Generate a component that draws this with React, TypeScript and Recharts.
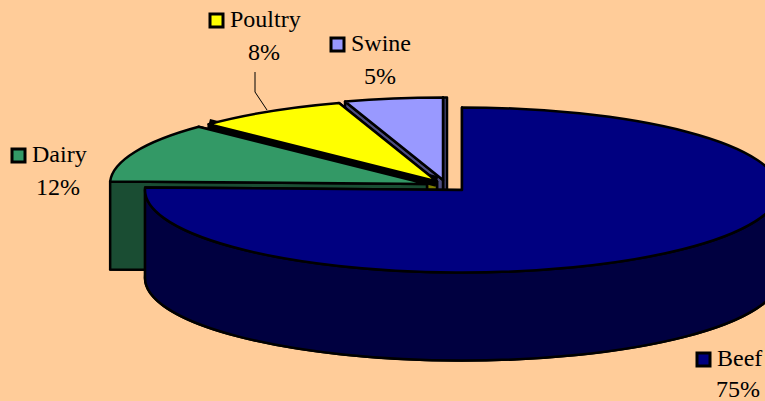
import { PieChart, Pie } from "recharts";

// drawn back to front, the pie runs counter-clockwise from 12 o'clock
const names = ["Swine", "Poultry", "Dairy", "Beef"];
const shares = [5.0, 7.8, 11.7, 75.5];
const percentLabels = ["5%", "8%", "12%", "75%"];

const topColors = ["#9999ff", "#ffff00", "#339966", "#000080"];
const wallColors = ["#4d4d80", "#808000", "#1a4d33", "#000040"];

const data = names.map((name, i) => ({ name, value: shares[i] }));

const WIDTH = 765;
const HEIGHT = 401;
const CX = 462;
const CY = 190;
const RX = 317;
const RY = 82.5;
const DEPTH = 88;

// how far each slice is pulled out of the pie
// edge = width of the heavy black line along the slice's far cut, the gap to the next slice
const explode = [
  { dx: -19, dy: -10, side: 4, edge: 0 },
  { dx: -25, dy: -8.5, side: 0, edge: 11 },
  { dx: -35, dy: -6, side: 0, edge: 0 },
  { dx: 0, dy: 0, side: 0, edge: 0 },
];

// where the legend-style labels sit
const labelBoxes = [
  { x: 331, y: 38, pctX: 380, pctY: 84 },
  { x: 210, y: 14, pctX: 264, pctY: 60 },
  { x: 12, y: 149, pctX: 58, pctY: 195 },
  { x: 697, y: 353, pctX: 738, pctY: 397 },
];

const FONT = '"Liberation Serif", "Times New Roman", serif';

function Slice3D(props: any) {
  const { startAngle, endAngle, cx, cy, index, name } = props;
  const i = index ?? names.indexOf(name);
  const { dx, dy, side, edge } = explode[i];
  const ox = cx + dx;
  const oy = cy + dy;
  const rx = props.outerRadius;
  const ry = (rx * RY) / RX;

  const xy = (deg: number) => {
    const r = (deg * Math.PI) / 180;
    return [ox + rx * Math.cos(r), oy - ry * Math.sin(r)];
  };
  const pt = (deg: number, drop = 0) => {
    const [x, y] = xy(deg);
    return `${x} ${y + drop}`;
  };
  const large = endAngle - startAngle > 180 ? 1 : 0;
  const sectorPath = (drop: number) =>
    `M ${ox} ${oy + drop} L ${pt(startAngle, drop)} A ${rx} ${ry} 0 ${large} 0 ${pt(endAngle, drop)} Z`;
  const radialWall = (deg: number) =>
    `M ${ox} ${oy} L ${pt(deg)} L ${pt(deg, DEPTH)} L ${ox} ${oy + DEPTH} Z`;

  const wallFrom = Math.max(startAngle, 180);
  const wallTo = Math.min(endAngle, 360);
  const common = { stroke: "#000", strokeWidth: 2.5, strokeLinejoin: "round" as const };
  const [sx, sy] = xy(startAngle);
  const [ex, ey] = xy(endAngle);

  return (
    <g>
      <path d={sectorPath(DEPTH)} fill={wallColors[i]} {...common} />
      {side > 0 && (
        <rect x={sx} y={sy} width={side} height={DEPTH + oy - sy} fill={wallColors[i]} {...common} />
      )}
      <path d={radialWall(startAngle)} fill={wallColors[i]} {...common} />
      <path d={radialWall(endAngle)} fill={wallColors[i]} {...common} />
      {edge > 0 && <line x1={ox} y1={oy} x2={ex} y2={ey} stroke="#000" strokeWidth={edge} />}
      {wallTo > wallFrom && (
        <path
          d={`M ${pt(wallFrom)} A ${rx} ${ry} 0 0 0 ${pt(wallTo)} L ${pt(wallTo, DEPTH)} A ${rx} ${ry} 0 0 1 ${pt(wallFrom, DEPTH)} Z`}
          fill={wallColors[i]}
          {...common}
        />
      )}
      <path d={sectorPath(0)} fill={topColors[i]} {...common} />
    </g>
  );
}

function SliceLabel(props: any) {
  const i = props.index;
  const box = labelBoxes[i];
  return (
    <g fontFamily={FONT} fontSize={24} fill="#000">
      <rect x={box.x} y={box.y} width={13} height={13} fill={topColors[i]} stroke="#000" strokeWidth={3} />
      <text x={box.x + 20} y={box.y + 13} textAnchor="start">
        {names[i]}
      </text>
      <text x={box.pctX} y={box.pctY} textAnchor="middle">
        {percentLabels[i]}
      </text>
    </g>
  );
}

function LeaderLine(props: any) {
  if (names[props.index] !== "Poultry") return <g />;
  return <polyline points="255,72 255,92 267,110" fill="none" stroke="#000" strokeWidth={1} />;
}

export default function App() {
  return (
    <div
      style={{
        position: "absolute",
        left: 0,
        top: 0,
        width: WIDTH,
        height: HEIGHT,
        overflow: "hidden",
        background: "#ffcc99",
      }}
    >
      <PieChart width={WIDTH} height={HEIGHT} margin={{ top: 0, right: 0, bottom: 0, left: 0 }}>
        <Pie
          data={data}
          dataKey="value"
          nameKey="name"
          cx={CX}
          cy={CY}
          innerRadius={0}
          outerRadius={RX}
          startAngle={90}
          endAngle={450}
          stroke="none"
          shape={Slice3D}
          label={SliceLabel}
          labelLine={LeaderLine}
          isAnimationActive={false}
        />
      </PieChart>
    </div>
  );
}
